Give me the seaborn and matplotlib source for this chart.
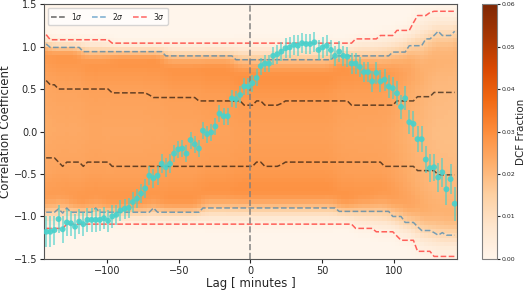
import numpy as np
import pandas as pd
import seaborn as sns
import matplotlib.pyplot as plt

# Lag grid (minutes) - 100 evenly spaced DCF lags
lags = np.linspace(-142.6, 142.6, 100)

corr = [-1.18, -1.18, -1.16, -1.03, -1.15, -1.07, -1.08, -1.12, -1.06, -1.09,
        -1.04, -1.04, -1.04, -1.04, -1.02, -1.05, -1.00, -0.98, -0.93, -0.91,
        -0.90, -0.83, -0.79, -0.73, -0.67, -0.52, -0.55, -0.52, -0.38, -0.42,
        -0.38, -0.26, -0.21, -0.20, -0.26, -0.10, -0.15, -0.20, 0.01, -0.03,
        -0.01, 0.06, 0.21, 0.18, 0.18, 0.39, 0.38, 0.43, 0.53, 0.53,
        0.57, 0.63, 0.77, 0.80, 0.80, 0.89, 0.91, 0.94, 0.98, 0.99,
        1.02, 1.01, 1.04, 1.03, 1.03, 1.05, 0.96, 0.99, 1.01, 0.96,
        0.89, 0.94, 0.89, 0.88, 0.80, 0.80, 0.76, 0.70, 0.70, 0.59,
        0.69, 0.59, 0.61, 0.53, 0.51, 0.45, 0.29, 0.39, 0.11, 0.09,
        -0.09, -0.09, -0.33, -0.43, -0.42, -0.54, -0.48, -0.68, -0.56, -0.85]

corr_err = [0.18, 0.18, 0.17, 0.17, 0.16, 0.16, 0.15, 0.15, 0.15, 0.14,
            0.14, 0.14, 0.14, 0.13, 0.13, 0.13, 0.13, 0.12, 0.12, 0.12,
            0.12, 0.12, 0.11, 0.11, 0.11, 0.11, 0.11, 0.11, 0.11, 0.11,
            0.11, 0.10, 0.10, 0.10, 0.10, 0.10, 0.10, 0.10, 0.10, 0.10,
            0.10, 0.10, 0.10, 0.10, 0.10, 0.10, 0.10, 0.10, 0.10, 0.10,
            0.10, 0.10, 0.10, 0.10, 0.10, 0.11, 0.11, 0.11, 0.12, 0.12,
            0.12, 0.12, 0.12, 0.12, 0.12, 0.12, 0.12, 0.12, 0.12, 0.12,
            0.12, 0.12, 0.12, 0.12, 0.12, 0.12, 0.12, 0.12, 0.12, 0.12,
            0.13, 0.13, 0.13, 0.13, 0.13, 0.14, 0.14, 0.14, 0.14, 0.15,
            0.15, 0.15, 0.16, 0.16, 0.16, 0.17, 0.17, 0.18, 0.18, 0.20]

# Significance levels from simulations (upper / lower)
up1 = ([0.60] + [0.55]*2 + [0.50]*13 + [0.455]*9 + [0.43] + [0.40]*11 + [0.36]*11
       + [0.31]*3 + [0.36]*2 + [0.31]*4 + [0.33] + [0.36]*16 + [0.31]*11 + [0.36]*5
       + [0.41]*4 + [0.46]*6)
lo1 = ([-0.31]*3 + [-0.36] + [-0.41] + [-0.36]*4 + [-0.41] + [-0.36]*6 + [-0.41]*35
       + [-0.36]*2 + [-0.41]*4 + [-0.39] + [-0.36]*24 + [-0.41]*8 + [-0.46]*5 + [-0.51]*5)
up2 = ([1.03] + [0.99]*8 + [0.94]*20 + [0.89]*17 + [0.845]*24 + [0.89]*14 + [0.935]*4
       + [1.01]*4 + [1.09]*2 + [1.13] + [1.18] + [1.13]*3 + [1.18])
lo2 = ([-0.95]*3 + [-0.91] + [-0.96] + [-0.90] + [-0.95]*6 + [-0.90] + [-0.95]*13
       + [-0.90] + [-0.95]*11 + [-0.90]*33 + [-0.94]*13 + [-1.0]*3 + [-1.07]*3 + [-1.12]
       + [-1.165]*3 + [-1.19] + [-1.22] + [-1.19] + [-1.22]*3)
up3 = ([1.14] + [1.08]*15 + [1.04]*59 + [1.09]*6 + [1.13]*4 + [1.19]*4 + [1.28]
       + [1.365]*3 + [1.40] + [1.415]*6)
lo3 = ([-1.14]*5 + [-1.09]*70 + [-1.14]*5 + [-1.18]*5 + [-1.23] + [-1.28]*4
       + [-1.41]*4 + [-1.47]*6)

# Shape of the simulated DCF distribution in each lag column (read by eye)
band_pos = [0.0, 0.1, 0.25, 0.5, 0.75, 0.9, 1.0]
band_weight = [1.15, 1.1, 1.0, 0.95, 1.0, 1.1, 1.2]
fade_pos = [-1.0, -0.5, 0.0, 0.5, 1.0, 1.5]
fade_weight = [1.0, 0.85, 0.55, 0.25, 0.08, 0.0]

df = pd.DataFrame({'lag': lags, 'corr': corr, 'err': corr_err,
                   'up1': up1, 'lo1': lo1, 'up2': up2, 'lo2': lo2,
                   'up3': up3, 'lo3': lo3})

# Build the DCF fraction map column by column
step = lags[1] - lags[0]
x_edges = np.append(lags - step / 2, lags[-1] + step / 2)
y_edges = np.linspace(-1.5, 1.5, 61)
y_mid = (y_edges[:-1] + y_edges[1:]) / 2
frac = np.zeros((len(y_mid), len(lags)))
for i, row in df.iterrows():
    t = (y_mid - row['lo2']) / (row['up2'] - row['lo2'])
    inner = np.interp(t, band_pos, band_weight)
    d_hi = (y_mid - row['up2']) / max(row['up3'] - row['up2'], 0.1)
    d_lo = (row['lo2'] - y_mid) / max(row['lo2'] - row['lo3'], 0.1)
    fade = np.interp(np.maximum(d_hi, d_lo), fade_pos, fade_weight)
    frac[:, i] = inner * fade

# soften the map a little (the simulated distribution varies smoothly)
kx = np.array([1, 2, 3, 2, 1]) / 9
ky = np.array([1, 2, 1]) / 4
padded = np.pad(frac, ((0, 0), (2, 2)), mode='edge')
frac = np.array([np.convolve(r, kx, mode='valid') for r in padded])
frac = np.array([np.convolve(c, ky, mode='same') for c in frac.T]).T
frac = frac / frac.sum(axis=0)

sns.set_style('ticks')
fig = plt.figure(figsize=(5.25, 2.9), dpi=100)
ax = fig.add_axes([0.084, 0.107, 0.786, 0.879])
cax = fig.add_axes([0.918, 0.107, 0.029, 0.879])

mesh = ax.pcolormesh(x_edges, y_edges, frac, cmap='Oranges', vmin=0, vmax=0.06)

# Significance curves
for lo, up, col, lab in [('lo1', 'up1', 'k', r'$1\sigma$'),
                         ('lo2', 'up2', 'tab:blue', r'$2\sigma$'),
                         ('lo3', 'up3', 'r', r'$3\sigma$')]:
    sns.lineplot(data=df, x='lag', y=up, color=col, alpha=0.6, lw=1.1,
                 linestyle='--', label=lab, ax=ax)
    sns.lineplot(data=df, x='lag', y=lo, color=col, alpha=0.6, lw=1.1,
                 linestyle='--', ax=ax)

ax.axvline(0, color='gray', linestyle='--', lw=1.2, alpha=0.9)

# Observed DCF with errors
ax.errorbar(df['lag'], df['corr'], yerr=df['err'], fmt='none',
            ecolor='mediumturquoise', elinewidth=1.2, alpha=0.7)
sns.scatterplot(data=df, x='lag', y='corr', color='mediumturquoise', s=18,
                edgecolor='none', alpha=0.9, ax=ax, zorder=5)

ax.set_xlim(x_edges[0], x_edges[-1])
ax.set_ylim(-1.5, 1.5)
ax.set_xticks([-100, -50, 0, 50, 100])
ax.set_yticks([-1.5, -1.0, -0.5, 0.0, 0.5, 1.0, 1.5])
ax.tick_params(labelsize=7, length=3, pad=2)
for s in ax.spines.values():
    s.set_edgecolor('#555555')
ax.set_xlabel('Lag [ minutes ]', fontsize=8.5, labelpad=1)
ax.set_ylabel('Correlation Coefficient', fontsize=8.5, labelpad=1)
ax.legend(loc='upper left', ncol=3, fontsize=5.5, handlelength=2.0,
          handletextpad=0.6, columnspacing=1.2, framealpha=0.8, borderpad=0.4)

cb = fig.colorbar(mesh, cax=cax)
cb.set_ticks([0.0, 0.01, 0.02, 0.03, 0.04, 0.05, 0.06])
cb.ax.set_yticklabels(['0.00', '0.01', '0.02', '0.03', '0.04', '0.05', '0.06'])
cb.ax.tick_params(labelsize=4.5, length=2, pad=1.5)
cb.set_label('DCF Fraction', fontsize=7.5, labelpad=0)
cb.outline.set_edgecolor('gray')

plt.savefig('out.png', dpi=100)
